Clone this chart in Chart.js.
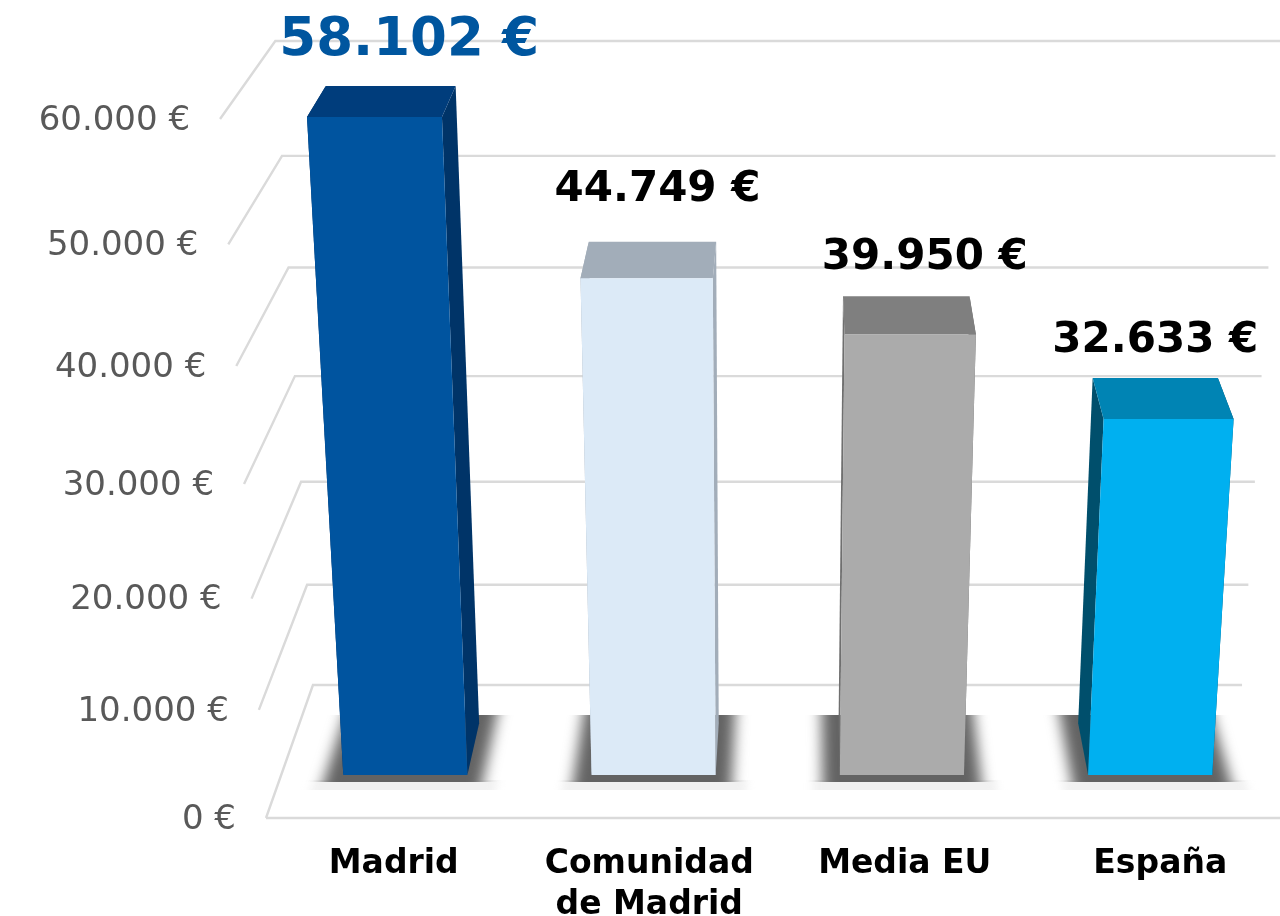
<!DOCTYPE html>
<html lang="es">
<head>
<meta charset="utf-8">
<title>Madrid</title>
<script src="https://cdn.jsdelivr.net/npm/chart.js@4/dist/chart.umd.js"></script>
<style>
html,body{margin:0;padding:0;background:#fff;overflow:hidden}
#wrap{width:1280px;height:916px;overflow:hidden;position:relative}
canvas{display:block;filter:blur(0.6px)}
</style>
</head>
<body>
<div id="wrap"><canvas id="c" width="1288" height="916"></canvas></div>
<script>
const categories = ['Madrid', ['Comunidad', 'de Madrid'], 'Media EU', 'España'];
const values = [58102, 44749, 39950, 32633];
const frontColors = ['#00549f', '#dceaf7', '#ababab', '#00b0f0'];
const topColors = ['#003d7c', '#a2adb9', '#7f7f7f', '#0084b4'];
const sideColors = ['#003468', '#a2adb9', '#6f6f6f', '#004f6c'];
const labelColors = ['#00569f', '#000000', '#000000', '#000000'];
const labelSizes = [53, 42, 42, 42];
const labelShiftX = [18.5, 5, 18.5, 0];
const labelShiftY = [-45, -52, -38, -37];
const yTickStep = 10000;
const yMax = 60000;

const FONT = "'DejaVu Sans', Verdana, sans-serif";
const GRID = '#dadada';
const Z_FRONT = 0.304, Z_BACK = 0.693;
const WALL_RIGHT_INSET = 4;

// Perspective camera: (X along the category axis, Y = value/max, Z = depth 0..1)
const cam = {ax: 266, ay: -64.7, az: 76.9, by0: 818, by: -709.1, bz: -67.4, wy: -0.0852, wz: 0.0957};
function project(X, Y, Z) {
  const w = 1 + cam.wy * Y + cam.wz * Z;
  return {x: (X + cam.ay * Y + cam.az * Z + cam.ax) / w,
          y: (cam.by0 + cam.by * Y + cam.bz * Z) / w};
}
function formatEuro(v) {
  return String(v).replace(/\B(?=(\d{3})+$)/g, '.') + ' €';
}

class PerspectiveScale extends Chart.LinearScale {
  static id = 'perspective';
  static defaults = Chart.LinearScale.defaults;
  getPixelForValue(v) { return project(0, v / this.max, 0).y; }
  getValueForPixel(p) {
    const Y = (cam.by0 - p) / (p * cam.wy - cam.by);
    return Y * this.max;
  }
  _computeLabelItems(area) {
    const items = super._computeLabelItems(area);
    items.forEach((it, i) => {
      const p = project(0, this.ticks[i].value / this.max, 0);
      it.options.translation = [p.x - 30, p.y + 2];
    });
    return items;
  }
}
Chart.register(PerspectiveScale);

function poly(ctx, pts, fill) {
  ctx.beginPath();
  pts.forEach((p, i) => i ? ctx.lineTo(p.x, p.y) : ctx.moveTo(p.x, p.y));
  ctx.closePath();
  ctx.fillStyle = fill;
  ctx.fill();
}

const scene3d = {
  id: 'scene3d',
  beforeDatasetsDraw(chart) {
    const {ctx, chartArea: a, scales: {y}} = chart;
    const width = a.right - a.left;
    ctx.save();
    ctx.strokeStyle = GRID;
    ctx.lineWidth = 2.4;
    ctx.lineJoin = 'miter';
    y.ticks.forEach(t => {
      const Y = t.value / y.max;
      const p0 = project(0, Y, 0), p1 = project(0, Y, 1), p2 = project(width - WALL_RIGHT_INSET, Y, 1);
      ctx.beginPath();
      ctx.moveTo(p0.x, p0.y); ctx.lineTo(p1.x, p1.y); ctx.lineTo(p2.x, p2.y);
      ctx.stroke();
      if (t.value === 0) {
        const e = project(width, 0, 0);
        ctx.beginPath(); ctx.moveTo(p0.x, p0.y); ctx.lineTo(e.x, e.y); ctx.stroke();
      }
    });
    // floor shadows
    const meta = chart.getDatasetMeta(0);
    meta.data.forEach(el => {
      const L = el.x - a.left - el.width / 2, R = el.x - a.left + el.width / 2;
      const zN = 0.253, zF = 0.758, zH = 0.196;
      const pH = project(0, 0, zH), pN = project(0, 0, zN), pF = project(0, 0, zF);
      // faint halo below the shadow
      ctx.save();
      ctx.beginPath();
      ctx.rect(el.x - 150, pN.y - 2, 300, pH.y - pN.y + 2);
      ctx.clip();
      ctx.filter = 'blur(4px)';
      poly(ctx, [project(L - 28, 0, zH - 0.2), project(R + 32, 0, zH - 0.2), project(R + 32, 0, zN + 0.1), project(L - 28, 0, zN + 0.1)], '#f1f1f1');
      ctx.restore();
      // dark contact shadow, sharp front and back edges, soft sides
      ctx.save();
      ctx.beginPath();
      ctx.rect(el.x - 150, pF.y, 300, pN.y - pF.y);
      ctx.clip();
      ctx.filter = 'blur(7px)';
      poly(ctx, [project(L - 18, 0, zN - 0.2), project(R + 17, 0, zN - 0.2), project(R + 17, 0, zF + 0.2), project(L - 18, 0, zF + 0.2)], '#636363');
      ctx.restore();
    });
    ctx.restore();
  },
  beforeDatasetDraw(chart, args) {
    const {ctx, chartArea: a, scales: {y}} = chart;
    const ds = chart.data.datasets[args.index];
    ctx.save();
    args.meta.data.forEach((el, i) => {
      const Y = ds.data[i] / y.max;
      const L = el.x - a.left - el.width / 2, R = el.x - a.left + el.width / 2;
      const fbl = project(L, 0, Z_FRONT), fbr = project(R, 0, Z_FRONT);
      const ftl = project(L, Y, Z_FRONT), ftr = project(R, Y, Z_FRONT);
      const bbl = project(L, 0, Z_BACK), bbr = project(R, 0, Z_BACK);
      const btl = project(L, Y, Z_BACK), btr = project(R, Y, Z_BACK);
      poly(ctx, [fbl, bbl, btl, ftl], sideColors[i]);
      poly(ctx, [fbr, bbr, btr, ftr], sideColors[i]);
      poly(ctx, [ftl, ftr, btr, btl], topColors[i]);
      poly(ctx, [fbl, fbr, ftr, ftl], el.options.backgroundColor);
    });
    ctx.restore();
    return false;
  },
  afterDatasetsDraw(chart) {
    const {ctx, chartArea: a, scales: {y}} = chart;
    const ds = chart.data.datasets[0];
    const meta = chart.getDatasetMeta(0);
    ctx.save();
    ctx.textAlign = 'center';
    ctx.textBaseline = 'middle';
    meta.data.forEach((el, i) => {
      const p = project(el.x - a.left, ds.data[i] / y.max, Z_BACK);
      ctx.font = `bold ${labelSizes[i]}px ${FONT}`;
      ctx.fillStyle = labelColors[i];
      ctx.fillText(formatEuro(ds.data[i]), p.x + labelShiftX[i], p.y + labelShiftY[i]);
    });
    ctx.restore();
  }
};

new Chart(document.getElementById('c'), {
  type: 'bar',
  data: {
    labels: categories,
    datasets: [{data: values, backgroundColor: frontColors, barPercentage: 0.5, categoryPercentage: 1}]
  },
  plugins: [scene3d],
  options: {
    responsive: false,
    animation: false,
    layout: {padding: {top: 119, left: 0, right: 0, bottom: 0}},
    plugins: {legend: {display: false}, tooltip: {enabled: false}},
    scales: {
      x: {
        grid: {display: false},
        border: {display: false},
        ticks: {
          color: '#000000', padding: 18, maxRotation: 0, autoSkip: false,
          font: {family: FONT, size: 33, weight: 'bold', lineHeight: 1.24}
        },
        afterFit(s) { s.height = 916 - 818; s.paddingLeft = 0; s.paddingRight = 0; }
      },
      y: {
        type: 'perspective',
        min: 0, max: yMax,
        grid: {display: false},
        border: {display: false},
        ticks: {
          stepSize: yTickStep, color: '#595959', autoSkip: false,
          font: {family: FONT, size: 34},
          callback: v => formatEuro(v)
        },
        afterFit(s) { s.width = 266; s.paddingTop = 0; s.paddingBottom = 0; }
      }
    }
  }
});
</script>
</body>
</html>
